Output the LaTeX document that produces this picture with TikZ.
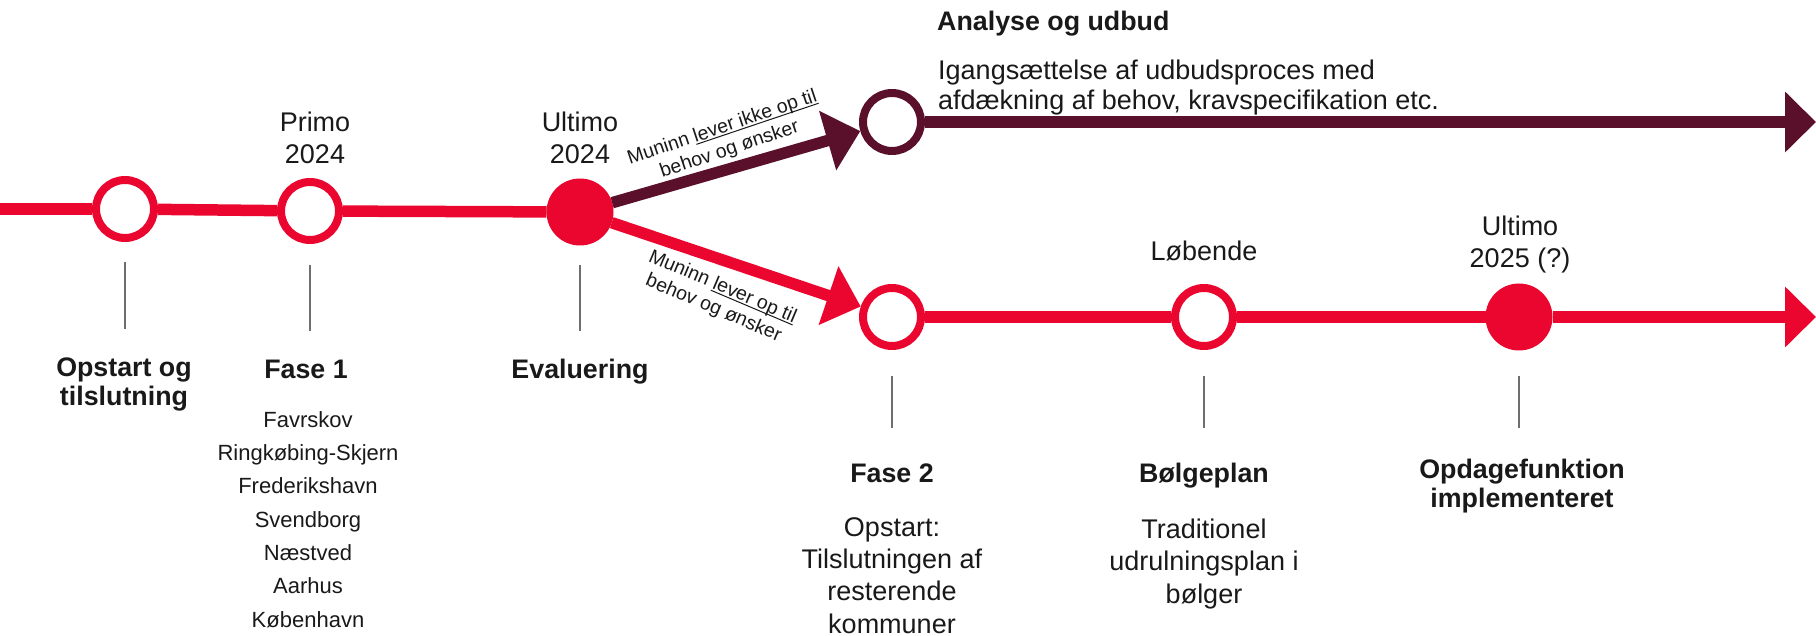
\documentclass[tikz,border=0pt]{standalone}
\usepackage{fontspec}
\setmainfont{Liberation Sans}
\usetikzlibrary{arrows.meta}
\definecolor{brandred}{RGB}{234,6,46}
\definecolor{brandwine}{RGB}{90,15,43}
\definecolor{txt}{RGB}{25,25,25}
\definecolor{tickgray}{RGB}{110,110,110}
\newcommand\myuline[1]{\setbox0\hbox{#1}\rlap{\rule[-2.6pt]{\wd0}{1pt}}\box0}
\begin{document}
\begin{tikzpicture}[x=1pt,y=-1pt,
  ms/.style={circle,draw=#1,line width=8pt,fill=white,minimum size=58pt,inner sep=0pt},
  msfill/.style={circle,fill=#1,minimum size=67pt,inner sep=0pt,outer sep=0pt},
  track/.style={line width=11.5pt,draw=#1},
  tickline/.style={draw=tickgray,line width=1.3pt},
  lbl/.style={text=txt,font=\fontsize{27}{32.2}\selectfont,align=center,anchor=base,inner sep=0pt},
  lblleft/.style={text=txt,font=\fontsize{27}{30}\selectfont,align=left,anchor=base west,inner sep=0pt},
  headlbl/.style={text=txt,font=\fontsize{26.8}{29}\selectfont\bfseries,align=center,anchor=base,inner sep=0pt},
  smalllbl/.style={text=txt,font=\fontsize{22}{33.3}\selectfont,align=center,anchor=base,inner sep=0pt},
  notelbl/.style={text=txt,font=\fontsize{19.5}{23}\selectfont,align=center,inner sep=0pt},
]
\useasboundingbox (0,0) rectangle (1816,636);

% milestones
\node[ms=brandred] (c1) at (125,209) {};
\node[ms=brandred] (c2) at (310,211) {};
\node[msfill=brandred] (c3) at (580,212) {};
\node[ms=brandwine] (u1) at (892,122) {};
\node[ms=brandred] (l1) at (892,317) {};
\node[ms=brandred] (l2) at (1204,317) {};
\node[msfill=brandred] (l3) at (1519,317) {};
\coordinate (start) at (0,209);
\coordinate (uend) at (1816,122);
\coordinate (lend) at (1816,317);

% tracks
\draw[track=brandred] (start) -- (c1);
\draw[track=brandred] (c1) -- (c2);
\draw[track=brandred] (c2) -- (c3);
\draw[track=brandwine,-{Triangle[length=34pt,width=60pt]}] (c3) -- (u1);
\draw[track=brandred,-{Triangle[length=34pt,width=60pt]}] (c3) -- (l1);
\draw[track=brandwine,-{Triangle[length=31pt,width=59pt]}] (u1) -- (uend);
\draw[track=brandred] (l1) -- (l2);
\draw[track=brandred] (l2) -- (l3);
\draw[track=brandred,-{Triangle[length=31pt,width=59pt]}] (l3) -- (lend);

% ticks
\draw[tickline] (c1 |- 0,262) -- (c1 |- 0,329);
\draw[tickline] (c2 |- 0,265) -- (c2 |- 0,331);
\draw[tickline] (c3 |- 0,265) -- (c3 |- 0,331);
\draw[tickline] (l1 |- 0,376) -- (l1 |- 0,428);
\draw[tickline] (l2 |- 0,376) -- (l2 |- 0,428);
\draw[tickline] (l3 |- 0,376) -- (l3 |- 0,428);

% branch notes
\node[notelbl,rotate=18.6] (nup) at (726,139) {Muninn \myuline{lever ikke op til}\\behov og ønsker};
\node[notelbl,rotate=-23] (ndown) at (718,298) {Muninn \myuline{lever op til}\\behov og ønsker};

% top labels (anchor = baseline of last line)
\node[lbl] (tprimo) at (315,164) {Primo\\2024};
\node[lbl] (tult1) at (580,164) {Ultimo\\2024};
\node[lbl] (tlob) at (1204,261) {Løbende};
\node[lbl] (tult2) at (1520,268) {Ultimo\\2025 (?)};
\node[headlbl,anchor=base west] (tana) at (937,31) {Analyse og udbud};
\node[lblleft] (tiga) at (938,110) {Igangsættelse af udbudsproces med\\afdækning af behov, kravspecifikation etc.};

% bottom labels
\node[headlbl] (bop) at (124,406) {Opstart og\\tilslutning};
\node[headlbl] (bf1) at (306,378) {Fase 1};
\node[smalllbl] (bmun) at (308,627) {Favrskov\\Ringkøbing-Skjern\\Frederikshavn\\Svendborg\\Næstved\\Aarhus\\København};
\node[headlbl] (bev) at (580,378) {Evaluering};
\node[headlbl] (bf2) at (892,482) {Fase 2};
\node[lbl] (bf2t) at (892,633) {Opstart:\\Tilslutningen af\\resterende\\kommuner};
\node[headlbl] (bbp) at (1204,482) {Bølgeplan};
\node[lbl] (bbpt) at (1204,603) {Traditionel\\udrulningsplan i\\bølger};
\node[headlbl] (bod) at (1522,507) {Opdagefunktion\\implementeret};
\end{tikzpicture}
\end{document}
